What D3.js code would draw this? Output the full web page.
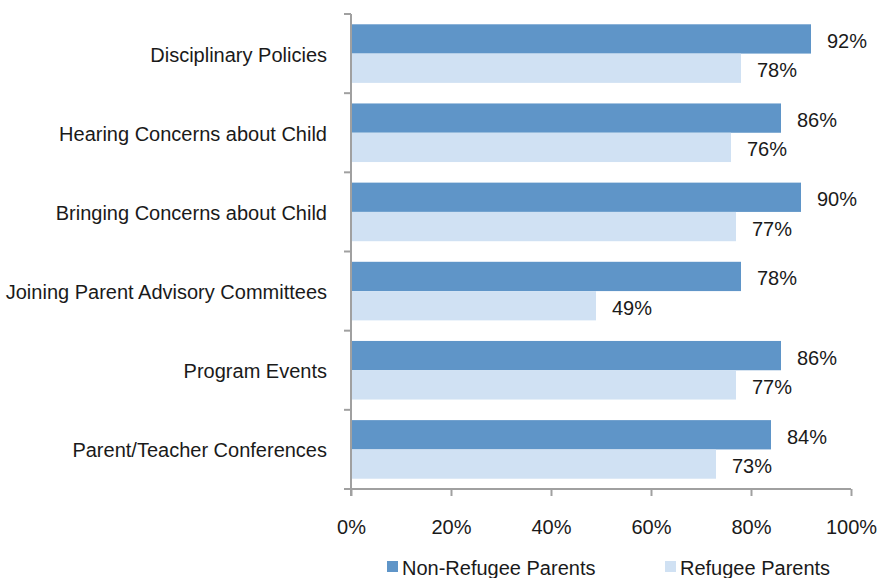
<!DOCTYPE html>
<html>
<head>
<meta charset="utf-8">
<script src="https://cdn.jsdelivr.net/npm/d3@7/dist/d3.min.js"></script>
<style>
  body { margin: 0; background: #fff; }
  svg text { font-family: 'Liberation Sans', Arial, sans-serif; fill: #1a1a1a; }
</style>
</head>
<body>
<svg id="chart" width="891" height="578"></svg>
<script>
// data
var categories = ["Disciplinary Policies", "Hearing Concerns about Child", "Bringing Concerns about Child",
  "Joining Parent Advisory Committees", "Program Events", "Parent/Teacher Conferences"];
var seriesNames = ["Non-Refugee Parents", "Refugee Parents"];
var nonRefugee = [92, 86, 90, 78, 86, 84];
var refugee = [78, 76, 77, 49, 77, 73];
var xTicks = [0, 20, 40, 60, 80, 100];
var colors = ["#5f95c8", "#d0e1f3"];

var svg = d3.select("#chart");
var fs = 20;
var plotL = 351, plotR = 851, plotT = 14, plotB = 489;

var x = d3.scaleLinear().domain([0, 100]).range([plotL, plotR]);
var y = d3.scaleBand().domain(categories).range([plotT, plotB]).paddingInner(0.26).paddingOuter(0.13);
var ySub = d3.scaleBand().domain(seriesNames).range([0, y.bandwidth()]);

var rows = categories.map(function (c, i) {
  return { cat: c, vals: [nonRefugee[i], refugee[i]] };
});

var g = svg.selectAll("g.row").data(rows).enter().append("g")
  .attr("class", "row")
  .attr("transform", function (d) { return "translate(0," + y(d.cat) + ")"; });

g.selectAll("rect").data(function (d) { return d.vals; }).enter().append("rect")
  .attr("x", x(0))
  .attr("y", function (d, i) { return ySub(seriesNames[i]); })
  .attr("width", function (d) { return x(d) - x(0); })
  .attr("height", ySub.bandwidth())
  .attr("fill", function (d, i) { return colors[i]; });

g.selectAll("text.val").data(function (d) { return d.vals; }).enter().append("text")
  .attr("class", "val")
  .attr("x", function (d) { return x(d) + 16; })
  .attr("y", function (d, i) { return ySub(seriesNames[i]) + ySub.bandwidth() / 2 + 2; })
  .attr("dy", "0.35em")
  .attr("font-size", fs)
  .text(function (d) { return d + "%"; });

// category labels
svg.selectAll("text.cat").data(categories).enter().append("text")
  .attr("class", "cat")
  .attr("x", 327)
  .attr("y", function (d) { return y(d) + y.bandwidth() / 2 + 1; })
  .attr("dy", "0.35em")
  .attr("text-anchor", "end")
  .attr("font-size", fs)
  .text(function (d) { return d; });

// axes
var axisColor = "#a0a0a0";
var yTickPos = d3.range(categories.length + 1).map(function (i) { return plotT + i * (plotB - plotT) / categories.length; });
svg.append("line").attr("x1", plotL).attr("x2", plotL).attr("y1", plotT).attr("y2", plotB + 7)
  .attr("stroke", axisColor).attr("stroke-width", 2);
svg.selectAll("line.yt").data(yTickPos).enter().append("line")
  .attr("class", "yt")
  .attr("x1", plotL - 7).attr("x2", plotL).attr("y1", function (d) { return d; }).attr("y2", function (d) { return d; })
  .attr("stroke", axisColor).attr("stroke-width", 2);

var xAxis = d3.axisBottom(x).tickValues(xTicks).tickSize(7).tickPadding(24)
  .tickFormat(function (d) { return d + "%"; });
var xg = svg.append("g").attr("transform", "translate(0," + plotB + ")").call(xAxis);
xg.select(".domain").attr("stroke", axisColor).attr("stroke-width", 2)
  .attr("d", "M" + (plotL - 7) + ",0H" + plotR);
xg.selectAll(".tick line").attr("stroke", axisColor).attr("stroke-width", 2);
xg.selectAll(".tick text").attr("font-size", fs).attr("font-family", "'Liberation Sans', Arial, sans-serif").attr("fill", "#1a1a1a");

// legend
var legendX = [387, 665];
var lg = svg.selectAll("g.leg").data(seriesNames).enter().append("g")
  .attr("class", "leg")
  .attr("transform", function (d, i) { return "translate(" + legendX[i] + ",561)"; });
lg.append("rect").attr("width", 11).attr("height", 11).attr("fill", function (d, i) { return colors[i]; });
lg.append("text").attr("x", 15).attr("y", 7).attr("dy", "0.35em").attr("font-size", fs)
  .text(function (d) { return d; });
</script>
</body>
</html>
